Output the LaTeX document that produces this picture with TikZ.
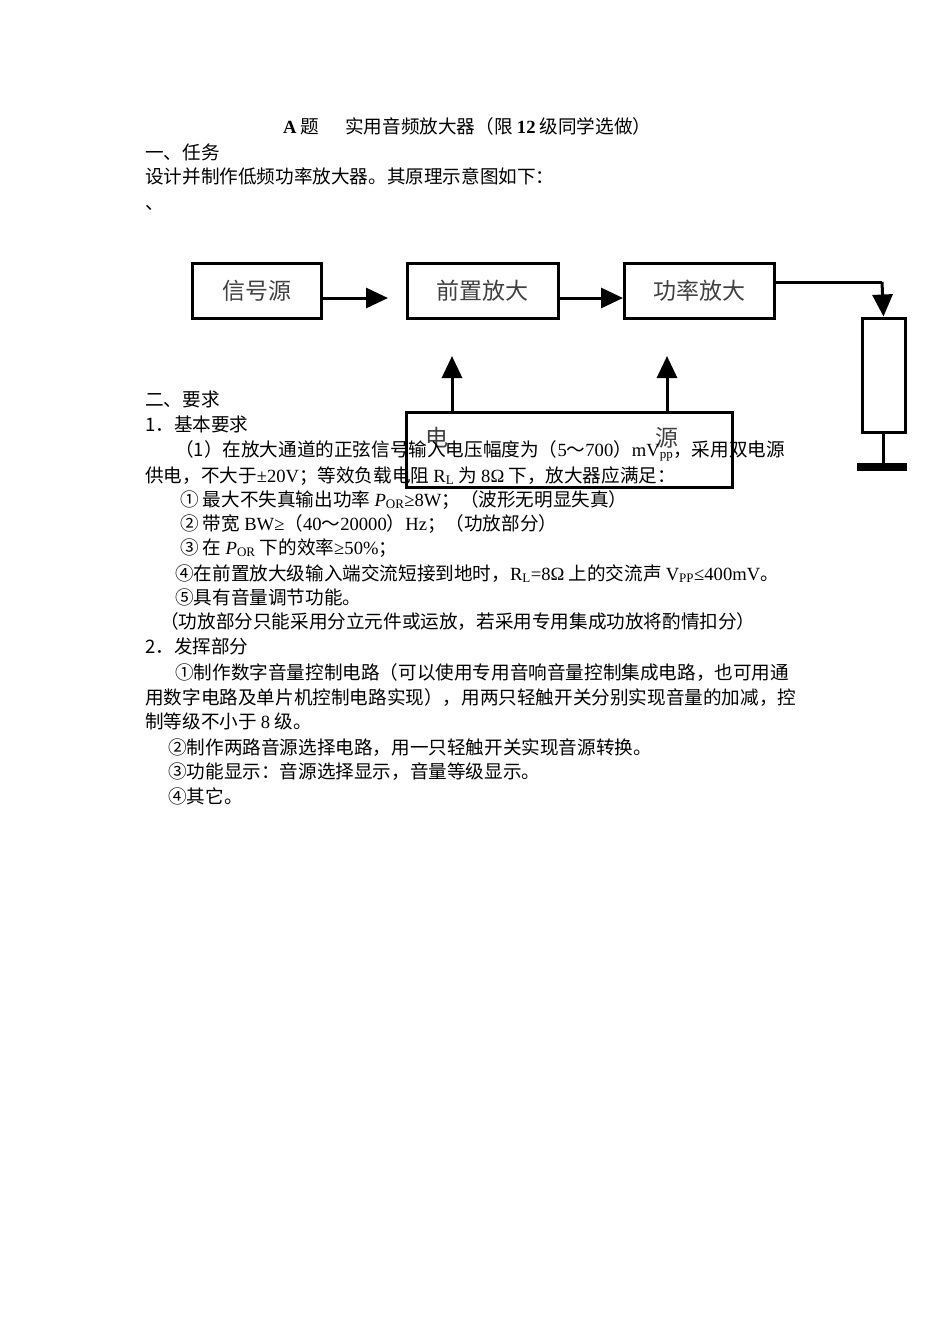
\documentclass[tikz,border=0pt]{standalone}
\usepackage{fontspec}
\setmainfont{Noto Sans CJK SC}
\newfontfamily\lat{Liberation Serif}
\usetikzlibrary{arrows.meta}
\begin{document}
\begin{tikzpicture}[x=1pt,y=-1pt,
  txt/.style={anchor=base west,inner sep=0pt,font=\fontsize{18.6}{21}\selectfont},
  blk/.style={draw,line width=3pt,inner sep=0pt,font=\fontsize{23}{25}\selectfont,text=black!75},
  conn/.style={line width=3pt,-{Triangle[width=20pt,length=22pt]}},
  wire/.style={line width=3pt}]
\useasboundingbox (0,0) rectangle (950,1344);
% diagram
\node[blk,minimum width=129pt,minimum height=55pt] (src) at (256.5,290.5) {信号源};
\node[blk,minimum width=151pt,minimum height=55pt] (pre) at (482.5,290.5) {前置放大};
\node[blk,minimum width=150pt,minimum height=55pt] (pwr) at (699,290.5) {功率放大};
\node[draw,line width=3pt,minimum width=43pt,minimum height=114pt,inner sep=0pt] (res) at (883.5,375) {};
\node[draw,line width=3pt,minimum width=326pt,minimum height=75pt,inner sep=0pt] (ps) at (569,449.5) {};
\node[font=\fontsize{23}{25}\selectfont,text=black!75] (d1) at (437,438) {电};
\node[font=\fontsize{23}{25}\selectfont,text=black!75] (d2) at (667,438) {源};
\fill (857,463) rectangle (907,471);
\coordinate (gnd) at (883.5,463);
\coordinate (corner) at (882,282);
\coordinate (s1) at (321,298);
\coordinate (s2) at (388,298);
\coordinate (p1) at (558,298);
\coordinate (p2) at (623,298);
\coordinate (a1) at (452,356);
\coordinate (a2) at (667,356);
\coordinate (b1) at (452,412);
\coordinate (b2) at (667,412);
\draw[conn] (s1) -- (s2);
\draw[conn] (p1) -- (p2);
\draw[wire] (pwr.east|-corner) -- (corner);
\draw[conn] (corner) -- (res.north);
\draw[wire] (res.south) -- (gnd);
\draw[conn] (b1) -- (a1);
\draw[conn] (b2) -- (a2);
% text
\node[txt] (t0) at (283,133) {\textbf{\lat A} 题\hspace{26pt}实用音频放大器（限 \textbf{\lat 12} 级同学选做）};
\node[txt] (t1) at (145,159) {一、任务};
\node[txt] (t2) at (145,183) {设计并制作低频功率放大器。其原理示意图如下：};
\node[txt] (t3) at (145,209) {、};
\node[txt] (t4) at (145,406) {二、要求};
\node[txt] (t5) at (145,431) {1．基本要求};
\node[txt] (t6) at (175,456) {（1）在放大通道的正弦信号输入电压幅度为（{\lat 5}～{\lat 700}）{\lat mV\textsubscript{pp}}，采用双电源};
\node[txt] (t7) at (145,482) {供电，不大于{\lat ±20V}；等效负载电阻 {\lat R\textsubscript{L}} 为 {\lat 8Ω} 下，放大器应满足：};
\node[txt] (t8) at (180,506) {① 最大不失真输出功率 {\lat\itshape P}{\lat\textsubscript{OR}}{\lat ≥8W}；（波形无明显失真）};
\node[txt] (t9) at (180,530) {② 带宽 {\lat BW≥}（{\lat 40}～{\lat 20000}）{\lat Hz}；（功放部分）};
\node[txt] (t10) at (180,554) {③ 在 {\lat\itshape P}{\lat\textsubscript{OR}} 下的效率{\lat ≥50\%}；};
\node[txt] (t11) at (175,580) {④在前置放大级输入端交流短接到地时，{\lat R\textsubscript{L}=8Ω} 上的交流声 {\lat V\textsubscript{PP}≤400mV}。};
\node[txt] (t12) at (175,604) {⑤具有音量调节功能。};
\node[txt] (t13) at (160,628) {（功放部分只能采用分立元件或运放，若采用专用集成功放将酌情扣分）};
\node[txt] (t14) at (145,653) {2．发挥部分};
\node[txt] (t15) at (175,679) {①制作数字音量控制电路（可以使用专用音响音量控制集成电路，也可用通};
\node[txt] (t16) at (145,704) {用数字电路及单片机控制电路实现），用两只轻触开关分别实现音量的加减，控};
\node[txt] (t17) at (145,728) {制等级不小于 {\lat 8} 级。};
\node[txt] (t18) at (168,754) {②制作两路音源选择电路，用一只轻触开关实现音源转换。};
\node[txt] (t19) at (168,778) {③功能显示：音源选择显示，音量等级显示。};
\node[txt] (t20) at (168,803) {④其它。};
\end{tikzpicture}
\end{document}
